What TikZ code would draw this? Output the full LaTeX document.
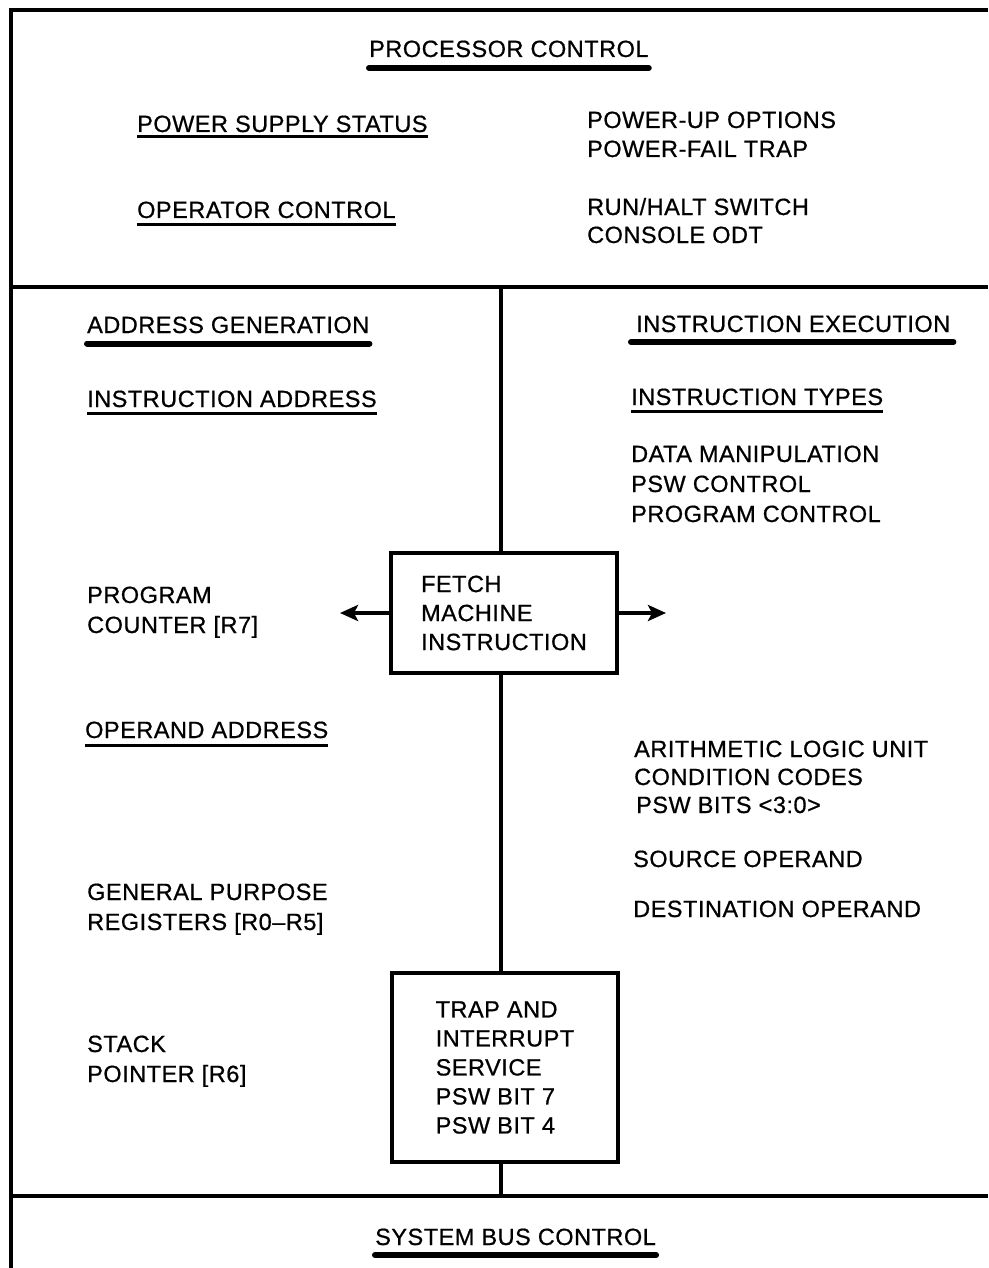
\documentclass[tikz,border=0pt]{standalone}
\usepackage{fontspec}
\setmainfont[LetterSpace=2.2,FakeBold=0.7]{Liberation Sans}
\usetikzlibrary{arrows.meta}
\begin{document}
\begin{tikzpicture}[x=1pt,y=-1pt,
  txt/.style={anchor=base west,inner sep=0pt,font=\fontsize{23.5}{29}\selectfont},
  frame/.style={line width=3.4pt},
  boxst/.style={draw,line width=3.2pt,minimum width=226pt,minimum height=120pt,inner sep=0pt,align=left,font=\fontsize{23.5}{29}\selectfont},
  thinul/.style={line width=3pt},
  thickul/.style={line width=6pt,line cap=round},
  arr/.style={line width=3.6pt,-{Stealth[length=18pt,width=16pt,inset=4pt]}}]
\useasboundingbox (0,0) rectangle (988,1268);
% frame
\draw[frame] (988,10) -- (11,10) -- (11,1268);
\draw[frame] (11,287) -- (988,287);
\draw[frame] (11,1196) -- (988,1196);
\coordinate (c1) at (501,287);
\coordinate (c2) at (501,1196);
% top section
\node[txt] (pc) at (369,57) {PROCESSOR CONTROL};
\draw[thickul] ([yshift=-11pt]pc.base west) -- ([yshift=-11pt]pc.base east);
\node[txt] (psu) at (137,132) {POWER SUPPLY STATUS};
\draw[thinul] ([yshift=-5pt]psu.base west) -- ([yshift=-5pt]psu.base east);
\node[txt] (opc) at (137,218) {OPERATOR CONTROL};
\draw[thinul] ([yshift=-6pt]opc.base west) -- ([yshift=-6pt]opc.base east);
\node[txt] (puo) at (587,128) {POWER-UP OPTIONS};
\node[txt] (pft) at (587,157) {POWER-FAIL TRAP};
\node[txt] (rhs) at (587,215) {RUN/HALT SWITCH};
\node[txt] (codt) at (587,243) {CONSOLE ODT};
% boxes
\node[boxst] (fetch) at (504,613) {FETCH\\MACHINE\\INSTRUCTION};
\node[boxst,minimum height=189pt] (trap) at (505,1067.5) {TRAP AND\\INTERRUPT\\SERVICE\\PSW BIT 7\\PSW BIT 4};
\draw[frame] (c1) -- (c1 |- fetch.north);
\draw[frame] (fetch.south -| c1) -- (trap.north -| c1);
\draw[frame] (trap.south -| c1) -- (c2);
\coordinate (la) at (340,613);
\coordinate (ra) at (666,613);
\draw[arr] (fetch.west) -- (la);
\draw[arr] (fetch.east) -- (ra);
% left column
\node[txt] (ag) at (87,333) {ADDRESS GENERATION};
\draw[thickul] ([yshift=-10.5pt]ag.base west) -- ([yshift=-10.5pt]ag.base east);
\node[txt] (ia) at (87,407) {INSTRUCTION ADDRESS};
\draw[thinul] ([yshift=-6.5pt]ia.base west) -- ([yshift=-6.5pt]ia.base east);
\node[txt] (pr1) at (87,603) {PROGRAM};
\node[txt] (pr2) at (87,633) {COUNTER [R7]};
\node[txt] (oa) at (85,738) {OPERAND ADDRESS};
\draw[thinul] ([yshift=-7pt]oa.base west) -- ([yshift=-7pt]oa.base east);
\node[txt] (gp1) at (87,900) {GENERAL PURPOSE};
\node[txt] (gp2) at (87,930) {REGISTERS [R0–R5]};
\node[txt] (sp1) at (87,1052) {STACK};
\node[txt] (sp2) at (87,1082) {POINTER [R6]};
% right column
\node[txt] (ie) at (636,332) {INSTRUCTION EXECUTION};
\draw[thickul] ([xshift=-5pt,yshift=-10pt]ie.base west) -- ([xshift=3pt,yshift=-10pt]ie.base east);
\node[txt] (it) at (631,405) {INSTRUCTION TYPES};
\draw[thinul] ([yshift=-6pt]it.base west) -- ([yshift=-6pt]it.base east);
\node[txt] (dm) at (631,462) {DATA MANIPULATION};
\node[txt] (pswc) at (631,492) {PSW CONTROL};
\node[txt] (pgc) at (631,522) {PROGRAM CONTROL};
\node[txt] (alu) at (634,757) {ARITHMETIC LOGIC UNIT};
\node[txt] (cc) at (634,785) {CONDITION CODES};
\node[txt] (pb) at (636,813) {PSW BITS <3:0>};
\node[txt] (so) at (633,867) {SOURCE OPERAND};
\node[txt] (dop) at (633,917) {DESTINATION OPERAND};
% bottom
\node[txt] (sbc) at (375,1245) {SYSTEM BUS CONTROL};
\draw[thickul] ([yshift=-10pt]sbc.base west) -- ([yshift=-10pt]sbc.base east);
\end{tikzpicture}
\end{document}
